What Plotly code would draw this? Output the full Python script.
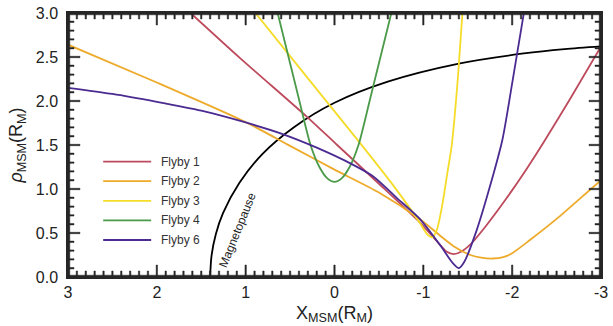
import plotly.graph_objects as go

# Magnetopause
mp_x = [1.40, 1.384, 1.336, 1.255, 1.07, 0.81, 0.46, 0.0, -0.60, -1.40, -2.13, -2.59, -3.13]
mp_y = [0.0, 0.244, 0.486, 0.725, 1.07, 1.40, 1.70, 1.98, 2.22, 2.425, 2.54, 2.59, 2.63]

# Flyby 1
f1_x = [1.62, 1.06, 0.31, -0.03, -0.5, -0.97, -1.15, -1.26, -1.34, -1.43, -1.53, -1.72, -1.94, -2.17, -2.36, -2.65, -3.0]
f1_y = [3.0, 2.485, 1.82, 1.5, 1.06, 0.61, 0.41, 0.29, 0.26, 0.29, 0.37, 0.60, 0.90, 1.24, 1.54, 2.02, 2.62]

# Flyby 2
f2_x = [3.0, 2.0, 1.0, 0.5, 0.0, -0.5, -0.97, -1.2, -1.34, -1.53, -1.65, -1.78, -1.9, -2.0, -2.2, -2.5, -2.75, -3.0]
f2_y = [2.64, 2.21, 1.76, 1.49, 1.22, 0.96, 0.65, 0.46, 0.35, 0.25, 0.22, 0.21, 0.225, 0.27, 0.42, 0.66, 0.88, 1.10]

# Flyby 3
f3_x = [0.89, 0.5, 0.07, -0.25, -0.64, -0.85, -0.97, -1.04, -1.10, -1.15, -1.21, -1.27, -1.32, -1.38, -1.44]
f3_y = [3.0, 2.51, 1.97, 1.57, 1.07, 0.78, 0.60, 0.49, 0.45, 0.53, 0.80, 1.18, 1.5, 2.15, 3.0]

# Flyby 4
f4_x = [0.64, 0.5, 0.4, 0.27, 0.17, 0.08, 0.0, -0.08, -0.17, -0.27, -0.4, -0.5, -0.64]
f4_y = [3.0, 2.43, 2.02, 1.5, 1.25, 1.12, 1.08, 1.12, 1.25, 1.5, 2.02, 2.43, 3.0]

# Flyby 6
f6_x = [3.0, 2.5, 2.0, 1.5, 1.05, 0.6, 0.2, -0.2, -0.44, -0.7, -0.97, -1.19, -1.33, -1.40, -1.46, -1.6, -1.75, -1.89, -2.0, -2.13]
f6_y = [2.15, 2.08, 1.99, 1.89, 1.77, 1.63, 1.47, 1.28, 1.14, 0.90, 0.65, 0.36, 0.16, 0.10, 0.17, 0.53, 1.03, 1.56, 2.2, 2.99]

names = ["Flyby 1", "Flyby 2", "Flyby 3", "Flyby 4", "Flyby 6"]
colors = ["#bd4a5c", "#eeaa2a", "#f5dc28", "#4a9a48", "#4b2a91"]
xs = [f1_x, f2_x, f3_x, f4_x, f6_x]
ys = [f1_y, f2_y, f3_y, f4_y, f6_y]

x_ticks = [3, 2, 1, 0, -1, -2, -3]
x_ticktext = ["3", "2", "1", "0", "-1", "-2", "-3"]
y_ticks = [0.0, 0.5, 1.0, 1.5, 2.0, 2.5, 3.0]
y_ticktext = ["0.0", "0.5", "1.0", "1.5", "2.0", "2.5", "3.0"]
x_minor = [round(-3 + 0.1 * i, 1) for i in range(61)]
y_minor = [round(0.1 * i, 1) for i in range(31)]

X_RANGE = [3, -3]
Y_RANGE = [0, 3]
W, H = 613, 326
M = dict(l=68, r=12, t=13, b=49)
PW = W - M["l"] - M["r"]
PH = H - M["t"] - M["b"]
INK = "#262626"
MAJ_LEN, MIN_LEN = 12, 6
TICK_W, FRAME_W = 1.4, 1.8

fig = go.Figure()

fig.add_trace(go.Scatter(x=mp_x, y=mp_y, mode="lines", line=dict(color="black", width=1.8, shape="spline", smoothing=0.8),
                         showlegend=False, hoverinfo="skip"))
for n, c, x, y in zip(names, colors, xs, ys):
    fig.add_trace(go.Scatter(x=x, y=y, mode="lines", name=n, showlegend=False,
                             line=dict(color=c, width=1.8, shape="spline", smoothing=0.7)))

# frame and inside ticks as thin filled rectangles on the 0..1 overlay axes
def is_major(v, vals):
    return any(abs(v - t) < 1e-9 for t in vals)

def fx(v):
    return (X_RANGE[0] - v) / (X_RANGE[0] - X_RANGE[1])

def fy(v):
    return (v - Y_RANGE[0]) / (Y_RANGE[1] - Y_RANGE[0])

rx, ry = [], []
def rect(x0, x1, y0, y1):
    rx.extend([x0, x1, x1, x0, x0, None])
    ry.extend([y0, y0, y1, y1, y0, None])

hw = TICK_W / 2 / PW
hh = TICK_W / 2 / PH
for v in x_minor:
    L = (MAJ_LEN if is_major(v, x_ticks) else MIN_LEN) / PH
    c = fx(v)
    rect(c - hw, c + hw, 0, L)
    rect(c - hw, c + hw, 1 - L, 1)
for v in y_minor:
    L = (MAJ_LEN if is_major(v, y_ticks) else MIN_LEN) / PW
    c = fy(v)
    rect(0, L, c - hh, c + hh)
    rect(1 - L, 1, c - hh, c + hh)
fw, fh = FRAME_W / PW, FRAME_W / PH
rect(0, 1, 0, fh)
rect(0, 1, 1 - fh, 1)
rect(0, fw, 0, 1)
rect(1 - fw, 1, 0, 1)

fig.add_trace(go.Scatter(x=rx, y=ry, mode="lines", xaxis="x2", yaxis="y2", fill="toself",
                         fillcolor=INK, line=dict(color=INK, width=0.5),
                         showlegend=False, hoverinfo="skip"))

# legend drawn on the overlay axes
leg_x0, leg_x1, leg_tx = 0.066, 0.156, 0.171
leg_y0, leg_dy = 0.437, 0.0742
for i, (n, c) in enumerate(zip(names, colors)):
    yy = leg_y0 - i * leg_dy
    fig.add_trace(go.Scatter(x=[leg_x0, leg_x1], y=[yy, yy], mode="lines", xaxis="x2", yaxis="y2",
                             line=dict(color=c, width=1.8), showlegend=False, hoverinfo="skip"))
    fig.add_annotation(x=leg_tx, y=yy, xref="x2", yref="y2", text=n, showarrow=False,
                       xanchor="left", yanchor="middle", font=dict(size=12, color="#333"))

fig.add_annotation(x=1.09, y=0.53, text="Magnetopause", showarrow=False, textangle=-68,
                   font=dict(size=12, color="#222"))

axis_common = dict(showline=True, linecolor=INK, linewidth=1.5, mirror=True, ticks="", showgrid=False, zeroline=False,
                   tickfont=dict(size=16, color="#222"))

fig.update_xaxes(range=X_RANGE, tickmode="array", tickvals=x_ticks, ticktext=x_ticktext,
                 title=dict(text="X<sub>MSM</sub>(R<sub>M</sub>)", font=dict(size=18, color="#222"), standoff=6),
                 **axis_common)
fig.update_yaxes(range=Y_RANGE, tickmode="array", tickvals=y_ticks, ticktext=y_ticktext,
                 ticklabelstandoff=5,
                 title=dict(text="<i>ρ</i><sub>MSM</sub>(R<sub>M</sub>)", font=dict(size=18, color="#222"), standoff=8),
                 **axis_common)

fig.update_layout(width=W, height=H, margin=dict(**M, autoexpand=False),
                  paper_bgcolor="white", plot_bgcolor="white", showlegend=False,
                  font=dict(family="Liberation Sans, Arial, sans-serif", color="#222"),
                  xaxis2=dict(overlaying="x", range=[0, 1], visible=False, fixedrange=True),
                  yaxis2=dict(overlaying="y", range=[0, 1], visible=False, fixedrange=True))

fig.write_html("out.html", config={"displayModeBar": False},
               post_script="document.body.style.margin='0';document.body.style.overflow='hidden';")
